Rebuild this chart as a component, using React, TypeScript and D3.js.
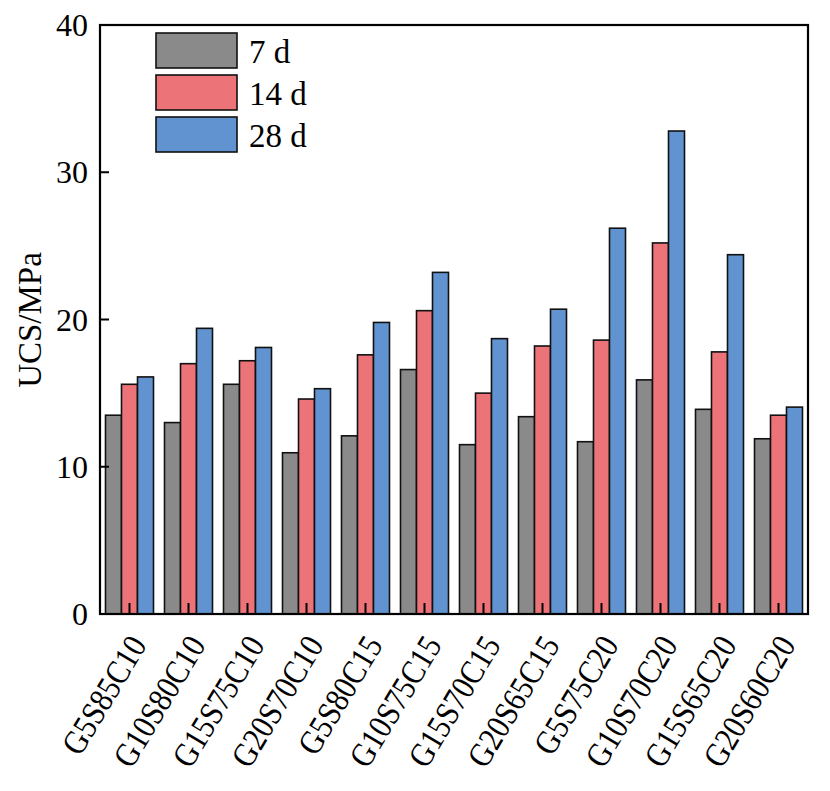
import React, { useEffect, useRef } from 'react';
import * as d3 from 'd3';

const categories = [
  'G5S85C10', 'G10S80C10', 'G15S75C10', 'G20S70C10', 'G5S80C15', 'G10S75C15',
  'G15S70C15', 'G20S65C15', 'G5S75C20', 'G10S70C20', 'G15S65C20', 'G20S60C20',
];
const series = ['7 d', '14 d', '28 d'];
const ucs7 = [13.5, 13.0, 15.6, 10.95, 12.1, 16.6, 11.5, 13.4, 11.7, 15.9, 13.9, 11.9];
const ucs14 = [15.6, 17.0, 17.2, 14.6, 17.6, 20.6, 15.0, 18.2, 18.6, 25.2, 17.8, 13.5];
const ucs28 = [16.1, 19.4, 18.1, 15.3, 19.8, 23.2, 18.7, 20.7, 26.2, 32.8, 24.4, 14.05];
const yTicks = [0, 10, 20, 30, 40];
const colors = ['#8a8a8a', '#ec7479', '#6093cf'];

const W = 830;
const H = 791;
const FONT = '"Liberation Serif", "Times New Roman", serif';

export default function App() {
  const svgRef = useRef<SVGSVGElement>(null);

  useEffect(() => {
    document.body.style.margin = '0';
    if (!svgRef.current) return;
    const svg = d3.select(svgRef.current);
    svg.selectAll('*').remove();

    const left = 100, right = 808, top = 25, bottom = 614;
    const x = d3.scaleBand<string>().domain(categories).range([left, right]);
    const inner = d3.scaleBand<string>().domain(series).range([-24, 24]);
    const y = d3.scaleLinear().domain([0, 40]).range([bottom, top]);

    const values = [ucs7, ucs14, ucs28];
    const rows = categories.flatMap((c, i) =>
      series.map((s, k) => ({ c, s, k, v: values[k][i] })));

    // bars
    svg.append('g')
      .selectAll('rect')
      .data(rows)
      .enter()
      .append('rect')
      .attr('x', (d) => (x(d.c) as number) + x.bandwidth() / 2 + (inner(d.s) as number))
      .attr('y', (d) => y(d.v))
      .attr('width', inner.bandwidth())
      .attr('height', (d) => y(0) - y(d.v))
      .attr('fill', (d) => colors[d.k])
      .attr('stroke', '#111')
      .attr('stroke-width', 1.6);

    // frame
    svg.append('rect')
      .attr('x', left).attr('y', top)
      .attr('width', right - left).attr('height', bottom - top)
      .attr('fill', 'none').attr('stroke', '#000').attr('stroke-width', 2.2);

    // y ticks
    const yg = svg.append('g');
    yg.selectAll('line')
      .data(yTicks.slice(1, -1))
      .enter()
      .append('line')
      .attr('x1', left).attr('x2', left + 9)
      .attr('y1', (d) => y(d)).attr('y2', (d) => y(d))
      .attr('stroke', '#000').attr('stroke-width', 2);
    yg.selectAll('text')
      .data(yTicks)
      .enter()
      .append('text')
      .attr('x', left - 12)
      .attr('y', (d) => y(d) + 11)
      .attr('text-anchor', 'end')
      .attr('font-family', FONT)
      .attr('font-size', 32)
      .text((d) => d);

    // x ticks
    const xg = svg.append('g');
    xg.selectAll('line')
      .data(categories)
      .enter()
      .append('line')
      .attr('x1', (d) => (x(d) as number) + x.bandwidth() / 2)
      .attr('x2', (d) => (x(d) as number) + x.bandwidth() / 2)
      .attr('y1', bottom).attr('y2', bottom - 11)
      .attr('stroke', '#000').attr('stroke-width', 2);
    // labels look a bit condensed in the original
    xg.selectAll('text')
      .data(categories)
      .enter()
      .append('text')
      .attr('transform', (d) => `translate(${(x(d) as number) + x.bandwidth() / 2 + 18},${bottom + 31}) rotate(-59) scale(0.92,1.06)`)
      .attr('text-anchor', 'end')
      .attr('font-family', FONT)
      .attr('font-size', 32)
      .text((d) => d);

    // y label
    svg.append('text')
      .attr('transform', `translate(41,320) rotate(-90)`)
      .attr('text-anchor', 'middle')
      .attr('font-family', FONT)
      .attr('font-size', 33)
      .text('UCS/MPa');

    // legend
    const lg = svg.append('g');
    const ly = d3.scalePoint<string>().domain(series).range([33, 117]);
    lg.selectAll('rect')
      .data(series)
      .enter()
      .append('rect')
      .attr('x', 156).attr('y', (d) => ly(d) as number)
      .attr('width', 81).attr('height', 35)
      .attr('fill', (d, i) => colors[i])
      .attr('stroke', '#111').attr('stroke-width', 1.6);
    lg.selectAll('text')
      .data(series)
      .enter()
      .append('text')
      .attr('x', 249).attr('y', (d) => (ly(d) as number) + 30)
      .attr('font-family', FONT)
      .attr('font-size', 33)
      .text((d) => d);
  }, []);

  return <svg ref={svgRef} width={W} height={H} style={{ display: 'block', background: '#fff' }} />;
}
